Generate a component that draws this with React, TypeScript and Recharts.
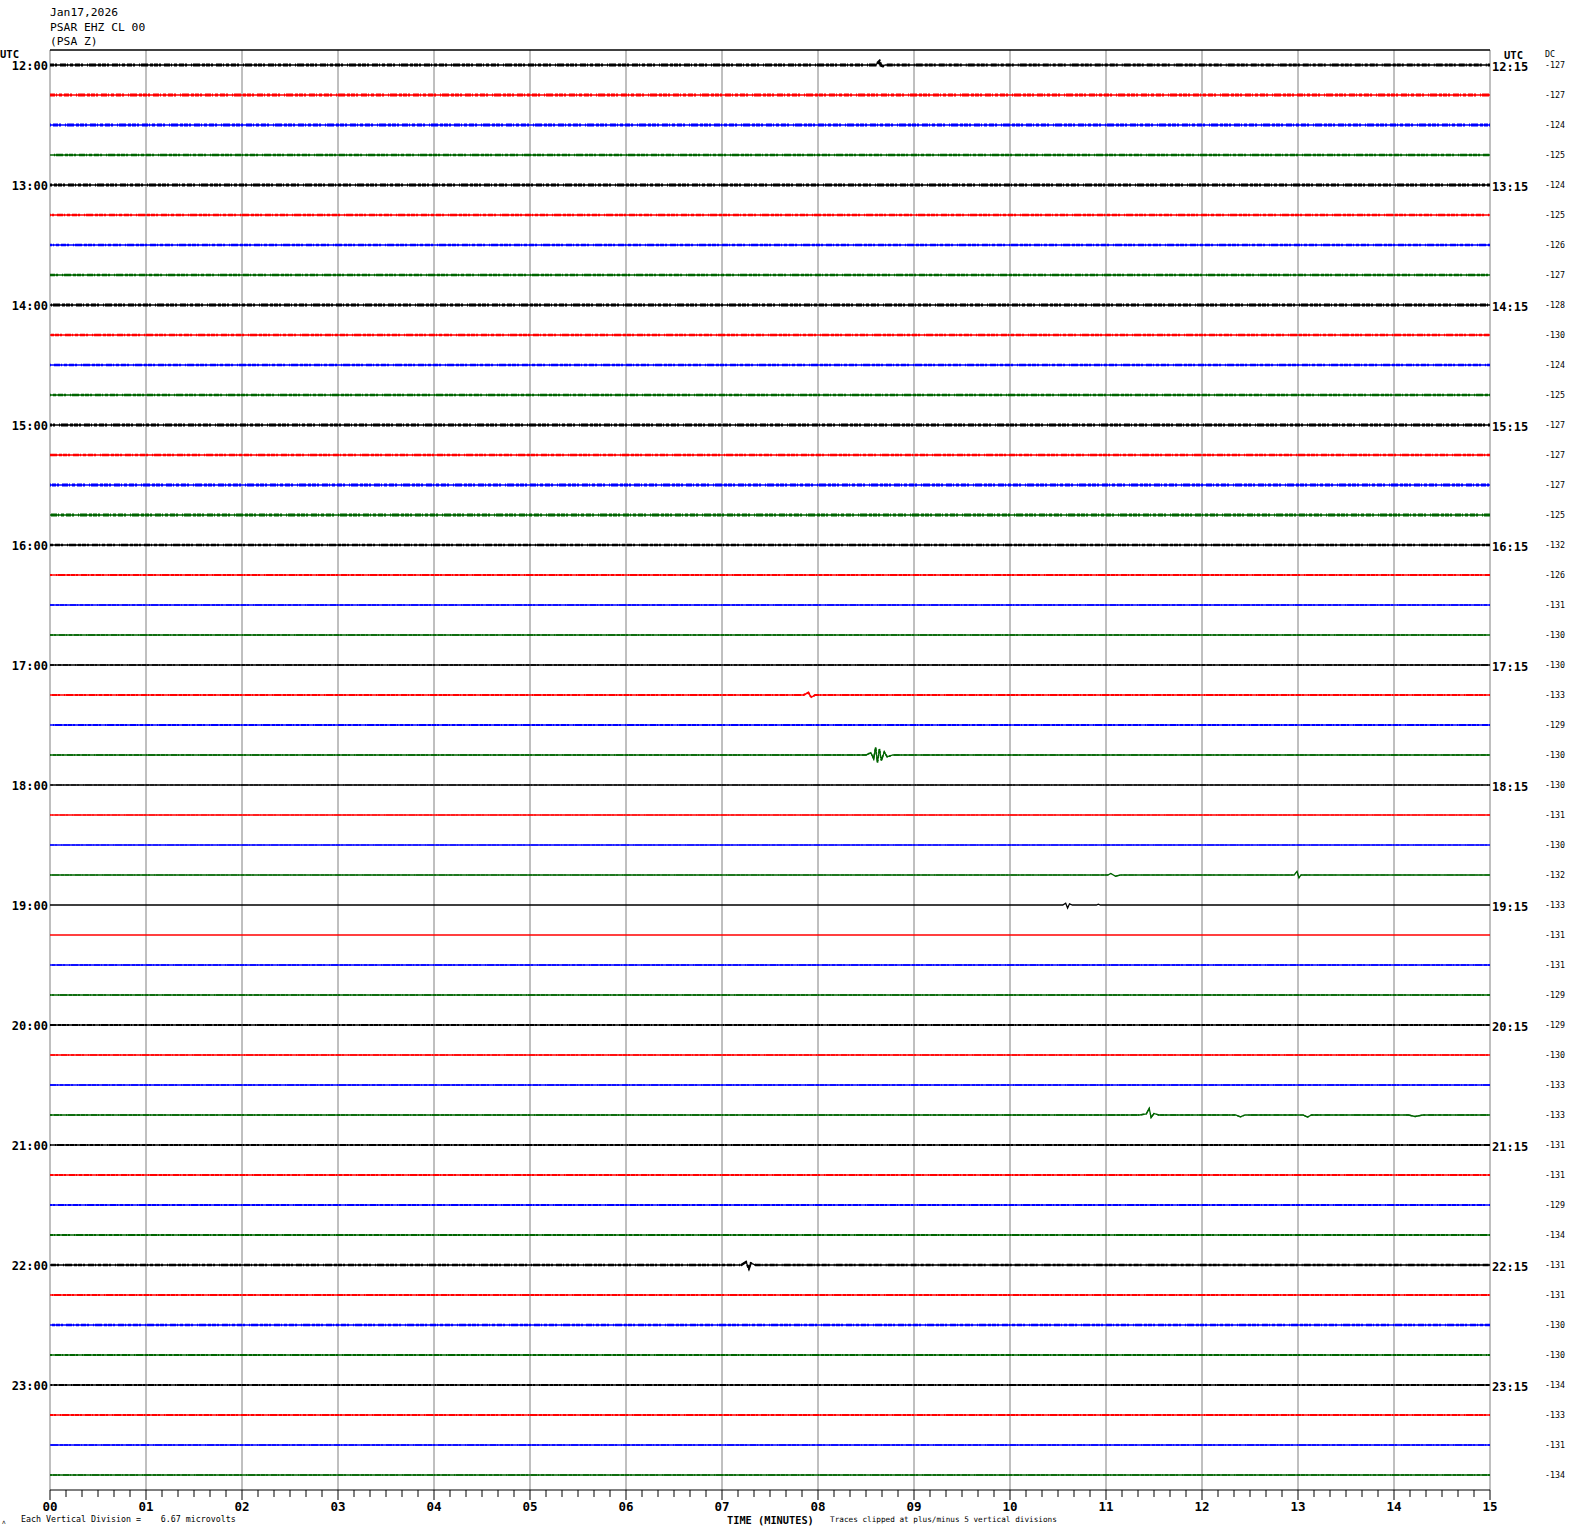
import React from "react";
import { LineChart, Line, XAxis, YAxis, ReferenceLine } from "recharts";

const MONO = "'DejaVu Sans Mono', 'Liberation Mono', monospace";

// trace colours cycle every 15 minutes
const traceColors = ["#000000", "#ff0000", "#0000ff", "#006400"];

const hourLabels = ["12", "13", "14", "15", "16", "17", "18", "19", "20", "21", "22", "23"];
const minuteLabels = ["00", "01", "02", "03", "04", "05", "06", "07", "08", "09", "10", "11", "12", "13", "14", "15"];

// DC offset printed at the right of every trace
const dcValues = [
  -127, -127, -124, -125,
  -124, -125, -126, -127,
  -128, -130, -124, -125,
  -127, -127, -127, -125,
  -132, -126, -131, -130,
  -130, -133, -129, -130,
  -130, -131, -130, -132,
  -133, -131, -131, -129,
  -129, -130, -133, -133,
  -131, -131, -129, -134,
  -131, -131, -130, -130,
  -134, -133, -131, -134,
];

// background noise amplitude per trace, in vertical divisions
const noiseLevel = [
  0.09, 0.09, 0.09, 0.08,
  0.09, 0.08, 0.08, 0.08,
  0.09, 0.08, 0.08, 0.07,
  0.09, 0.08, 0.09, 0.09,
  0.08, 0.06, 0.04, 0.04,
  0.05, 0.06, 0.06, 0.05,
  0.03, 0.03, 0.03, 0.03,
  0.02, 0.02, 0.04, 0.05,
  0.06, 0.05, 0.04, 0.04,
  0.06, 0.06, 0.06, 0.06,
  0.07, 0.06, 0.07, 0.06,
  0.06, 0.06, 0.05, 0.05,
];

// visible signals: [minute, deflection in divisions, up positive]
const events: { trace: number; points: [number, number][] }[] = [
  { trace: 0, points: [[8.6, 0], [8.64, 0.12], [8.66, -0.05], [8.7, 0]] },
  { trace: 21, points: [[7.85, 0], [7.9, 0.08], [7.93, -0.08], [7.97, 0]] },
  {
    trace: 23,
    points: [
      [8.5, 0], [8.55, 0.08], [8.58, -0.12], [8.6, 0.25], [8.62, -0.25],
      [8.64, 0.2], [8.66, -0.18], [8.69, 0.1], [8.72, -0.06], [8.78, 0],
    ],
  },
  {
    trace: 27,
    points: [
      [11.02, 0], [11.05, 0.05], [11.1, -0.04], [11.15, 0],
      [12.96, 0], [12.99, 0.12], [13.01, -0.1], [13.03, 0],
    ],
  },
  {
    trace: 28,
    points: [
      [10.55, 0], [10.58, 0.06], [10.6, -0.1], [10.62, 0.04], [10.65, 0],
      [10.9, 0], [10.92, 0.03], [10.94, 0],
    ],
  },
  {
    trace: 35,
    points: [
      [11.35, 0], [11.42, 0.04], [11.45, 0.22], [11.47, -0.08], [11.5, 0.05], [11.55, 0],
      [12.35, 0], [12.4, -0.06], [12.45, 0],
      [13.05, 0], [13.1, -0.07], [13.14, 0],
      [14.15, 0], [14.22, -0.05], [14.3, 0],
    ],
  },
  { trace: 40, points: [[7.2, 0], [7.25, 0.1], [7.28, -0.12], [7.3, 0.06], [7.35, 0]] },
];

const traceIndex = dcValues.map((_, i) => i);
const minorTicks = Array.from({ length: 15 * 6 + 1 }, (_, k) => k / 6);

const traceData = traceIndex.map((i) => {
  const ev = events.filter((e) => e.trace === i).flatMap((e) => e.points);
  const pts: [number, number][] = [[0, 0], ...ev, [15, 0]];
  return pts.map(([t, d]) => ({ t, v: i - d }));
});

function TimeTick(props: any) {
  const { x, y, payload } = props;
  const v = payload.value;
  const major = Math.abs(v - Math.round(v)) < 1e-6;
  return (
    <g>
      <line x1={x} x2={x} y1={y} y2={y + (major ? 10 : 7)} stroke="#000" strokeWidth={1} />
      {major && (
        <text x={x} y={y + 21} textAnchor="middle" fontFamily={MONO} fontWeight="bold" fontSize={12.5} fill="#000">
          {minuteLabels[Math.round(v)]}
        </text>
      )}
    </g>
  );
}

function HourTick(props: any) {
  const { y, payload } = props;
  const i = payload.value;
  if (i % 4 !== 0) return <g />;
  return (
    <text x={48} y={y + 5} textAnchor="end" fontFamily={MONO} fontWeight="bold" fontSize={12} fill="#000">
      {hourLabels[i / 4]}:00
    </text>
  );
}

function RightTick(props: any) {
  const { y, payload } = props;
  const i = payload.value;
  return (
    <g>
      {i % 4 === 0 && (
        <text x={1492} y={y + 6} fontFamily={MONO} fontWeight="bold" fontSize={12} fill="#000">
          {hourLabels[i / 4]}:15
        </text>
      )}
      <text x={1545} y={y + 3} fontFamily={MONO} fontSize={8.3} fill="#000">
        {dcValues[i]}
      </text>
    </g>
  );
}

export default function App() {
  return (
    <div style={{ position: "absolute", left: 0, top: 0, width: 1570, height: 1534, background: "#fff" }}>
      <LineChart width={1570} height={1534} margin={{ top: 50, right: 0, bottom: 0, left: 0 }}>
        <XAxis
          dataKey="t"
          type="number"
          domain={[0, 15]}
          ticks={minorTicks}
          interval={0}
          height={44}
          tickSize={0}
          tickMargin={0}
          stroke="#000"
          allowDataOverflow
          tick={(p: any) => <TimeTick {...p} />}
        />
        <YAxis
          yAxisId="left"
          type="number"
          domain={[-0.5, 47.5]}
          reversed
          ticks={traceIndex}
          interval={0}
          width={50}
          axisLine={false}
          tickLine={false}
          tickSize={0}
          allowDataOverflow
          tick={(p: any) => <HourTick {...p} />}
        />
        <YAxis
          yAxisId="right"
          orientation="right"
          type="number"
          domain={[-0.5, 47.5]}
          reversed
          ticks={traceIndex}
          interval={0}
          width={80}
          axisLine={false}
          tickLine={false}
          tickSize={0}
          allowDataOverflow
          tick={(p: any) => <RightTick {...p} />}
        />
        {minuteLabels.map((_, m) => (
          <ReferenceLine key={"g" + m} x={m} yAxisId="left" stroke="#808080" strokeWidth={1} />
        ))}
        <ReferenceLine y={-0.5} yAxisId="left" stroke="#000" strokeWidth={1.5} />
        {traceIndex.map((i) => (
          <Line
            key={"b" + i}
            data={traceData[i]}
            dataKey="v"
            yAxisId="left"
            type="linear"
            stroke={traceColors[i % 4]}
            strokeWidth={1.3}
            dot={false}
            activeDot={false}
            isAnimationActive={false}
          />
        ))}
        {traceIndex.map((i) =>
          noiseLevel[i] > 0.025 ? (
            <Line
              key={"n" + i}
              data={traceData[i]}
              dataKey="v"
              yAxisId="left"
              type="linear"
              stroke={traceColors[i % 4]}
              strokeWidth={noiseLevel[i] * 33}
              strokeDasharray="4 1 2 3 6 1 1 2 3 2 5 1 2 4 1 1 7 2 3 1"
              strokeDashoffset={i * 11}
              dot={false}
              activeDot={false}
              isAnimationActive={false}
            />
          ) : null
        )}
      </LineChart>
      <svg
        width={1570}
        height={1534}
        style={{ position: "absolute", left: 0, top: 0, pointerEvents: "none" }}
        fontFamily={MONO}
      >
        <text x={50} y={16} fontSize={11.3}>Jan17,2026</text>
        <text x={50} y={31} fontSize={11.3}>PSAR EHZ CL 00</text>
        <text x={50} y={45} fontSize={11.3}>(PSA Z)</text>
        <text x={0} y={58} fontSize={10.5} fontWeight="bold">UTC</text>
        <text x={1504} y={59} fontSize={10.5} fontWeight="bold">UTC</text>
        <text x={1545} y={57} fontSize={8.3}>DC</text>
        <text x={2} y={1524} fontSize={6}>ʌ</text>
        <text x={21} y={1522} fontSize={8.3} style={{ whiteSpace: "pre" }}>
          {"Each Vertical Division =    6.67 microvolts"}
        </text>
        <text x={727} y={1524} fontSize={10.3} fontWeight="bold">TIME (MINUTES)</text>
        <text x={830} y={1522} fontSize={7.7}>Traces clipped at plus/minus 5 vertical divisions</text>
      </svg>
    </div>
  );
}
